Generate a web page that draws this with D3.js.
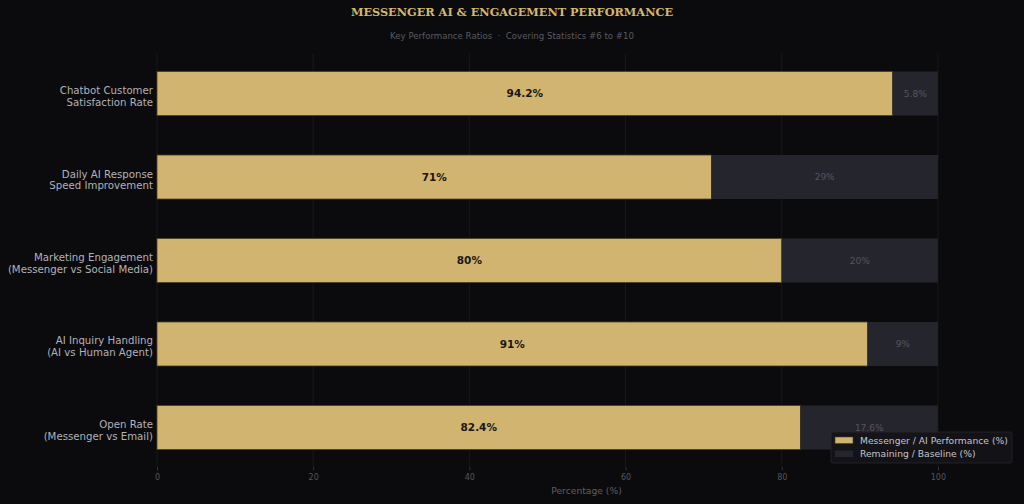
<!DOCTYPE html>
<html><head><meta charset="utf-8">
<script src="https://cdn.jsdelivr.net/npm/d3@7"></script>
<style>body{margin:0;background:#0b0b0d;} svg{display:block;} text{white-space:pre;}</style>
</head><body>
<svg id="c" width="1024" height="504"></svg>
<script>
const categories = [
  ["Chatbot Customer","Satisfaction Rate"],
  ["Daily AI Response","Speed Improvement"],
  ["Marketing Engagement","(Messenger vs Social Media)"],
  ["AI Inquiry Handling","(AI vs Human Agent)"],
  ["Open Rate","(Messenger vs Email)"]
];
const performance = [94.2, 71, 80, 91, 82.4];
const remaining = [5.8, 29, 20, 9, 17.6];
const xTicks = [0, 20, 40, 60, 80, 100];
const seriesNames = ["Messenger / AI Performance (%)", "Remaining / Baseline (%)"];

const W = 1024, H = 504;
const m = {left:157, right:8, top:54, bottom:37};
const svg = d3.select("#c");
svg.append("rect").attr("width",W).attr("height",H).attr("fill","#0b0b0d");

const x = d3.scaleLinear().domain([0,110]).range([m.left, W-m.right]);
const y = d3.scaleBand().domain(d3.range(categories.length)).range([m.top, H-m.bottom])
  .paddingInner(0.473).paddingOuter(0.21);

const gold = "#d1b46f", rest = "#25252e";

// grid
svg.append("g").selectAll("line").data(xTicks).join("line")
  .attr("x1",d=>x(d)).attr("x2",d=>x(d)).attr("y1",m.top).attr("y2",H-m.bottom)
  .attr("stroke","#1c1c22").attr("stroke-width",0.8);

const rows = svg.append("g").selectAll("g").data(categories).join("g");
rows.append("rect")
  .attr("x",x(0)).attr("y",(d,i)=>y(i))
  .attr("width",(d,i)=>x(performance[i])-x(0)).attr("height",y.bandwidth())
  .attr("fill",gold).attr("stroke","#4a3f25").attr("stroke-width",0.8);
rows.append("rect")
  .attr("x",(d,i)=>x(performance[i])).attr("y",(d,i)=>y(i))
  .attr("width",(d,i)=>x(performance[i]+remaining[i])-x(performance[i])).attr("height",y.bandwidth())
  .attr("fill",rest);
rows.append("text")
  .attr("x",(d,i)=>(x(0)+x(performance[i]))/2).attr("y",(d,i)=>y(i)+y.bandwidth()/2)
  .attr("dy","0.35em").attr("text-anchor","middle")
  .attr("font-family","DejaVu Sans").attr("font-weight","bold").attr("font-size",10.5)
  .attr("fill","#1a1712").text((d,i)=>performance[i]+"%");
rows.append("text")
  .attr("x",(d,i)=>(x(performance[i])+x(performance[i]+remaining[i]))/2).attr("y",(d,i)=>y(i)+y.bandwidth()/2)
  .attr("dy","0.35em").attr("text-anchor","middle")
  .attr("font-family","DejaVu Sans").attr("font-size",9)
  .attr("fill","#55555f").text((d,i)=>remaining[i]+"%");

// y labels
rows.append("text")
  .attr("x",m.left-4).attr("y",(d,i)=>y(i)+y.bandwidth()/2)
  .attr("text-anchor","end").attr("font-family","DejaVu Sans").attr("font-size",10.2)
  .attr("fill","#b2b2b8")
  .selectAll("tspan").data(d=>d).join("tspan")
  .attr("x",m.left-4).attr("dy",(d,j)=>j===0?"0.05em":"1.13em").text(d=>d);

// x axis
const xa = svg.append("g").attr("transform",`translate(0,${H-m.bottom})`)
  .call(d3.axisBottom(x).tickValues(xTicks).tickSize(3.5).tickPadding(4));
xa.select(".domain").remove();
xa.selectAll("line").attr("stroke","#33333a");
xa.selectAll("text").attr("fill","#55555c").attr("font-family","DejaVu Sans").attr("font-size",8);

svg.append("text").attr("x",x(55)).attr("y",494).attr("text-anchor","middle")
  .attr("font-family","DejaVu Sans").attr("font-size",9.2).attr("fill","#5e5e66").text("Percentage (%)");

// title
svg.append("text").attr("x",512).attr("y",16).attr("text-anchor","middle")
  .attr("font-family","DejaVu Serif").attr("font-weight","bold").attr("font-size",11.3)
  .attr("fill","#d4b86a").text("MESSENGER AI & ENGAGEMENT PERFORMANCE");
svg.append("text").attr("x",512).attr("y",39).attr("text-anchor","middle")
  .attr("font-family","DejaVu Sans").attr("font-size",8.6).attr("fill","#5a5a62")
  .text("Key Performance Ratios  \u00b7  Covering Statistics #6 to #10");

// legend
const lg = svg.append("g").attr("transform","translate(831,432)");
lg.append("rect").attr("width",181).attr("height",31).attr("rx",2)
  .attr("fill","#141418").attr("stroke","#2a2a30").attr("stroke-width",0.8).attr("opacity",0.95);
const items = lg.selectAll("g").data(seriesNames).join("g")
  .attr("transform",(d,i)=>`translate(4,${5+i*13.5})`);
items.append("rect").attr("width",18).attr("height",6.5).attr("fill",(d,i)=>i===0?gold:rest)
  .attr("stroke",(d,i)=>i===0?"#4a3f25":"none").attr("stroke-width",0.6);
items.append("text").attr("x",25).attr("y",3.5).attr("dy","0.35em")
  .attr("font-family","DejaVu Sans").attr("font-size",9.2).attr("fill","#c4c4c8").text(d=>d);
</script>
</body></html>
